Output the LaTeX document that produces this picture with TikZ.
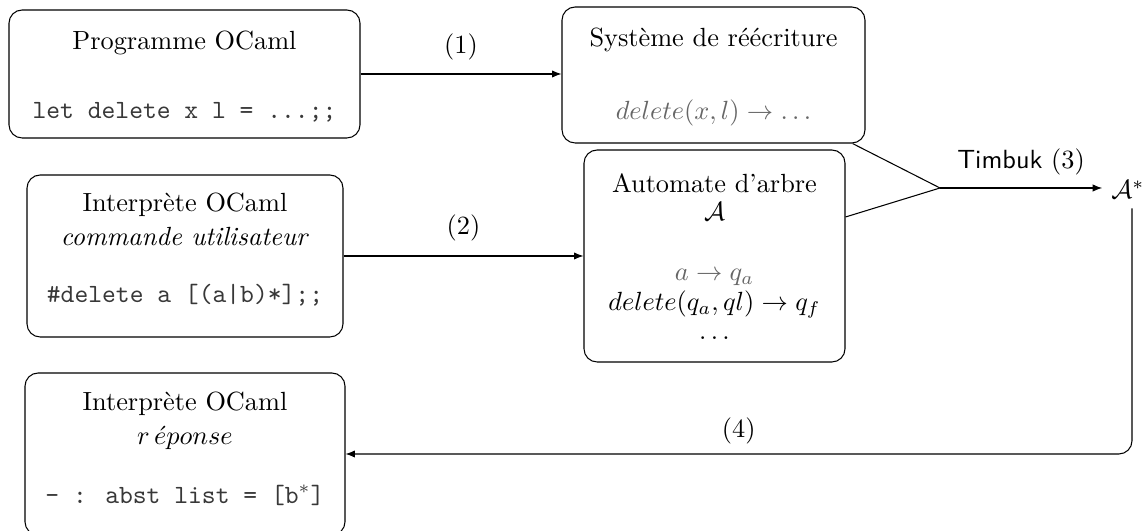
\documentclass[tikz,border=0pt]{standalone}
\usepackage{fontspec}
\usetikzlibrary{fit,calc,arrows.meta}
\begin{document}
\begin{tikzpicture}[x=0.3802pt,y=-0.3802pt,
  box/.style={draw, rounded corners=5pt, inner sep=0pt},
  txt/.style={inner sep=0pt},
  grey/.style={text=black!60},
  code/.style={inner sep=0pt, text=black!78, font=\ttfamily},
  arr/.style={-{Latex[length=3.6pt,width=2.8pt]}},
  lab/.style={above, midway},
]
\useasboundingbox (0,0) rectangle (1143,531);

% boxes
\node[box, fit={(9,10) (360,138)}] (b1) {};
\node[box, fit={(562,7) (865,143)}] (b2) {};
\node[box, fit={(27,175) (343,337)}] (b3) {};
\node[box, fit={(584,150) (845,362)}] (b4) {};
\node[box, fit={(25,373) (345,535)}] (b5) {};

% box texts
\node[txt] (b1t) at (184.5,43) {Programme OCaml};
\node[code] (b1c) at (184.5,112) {let delete x l = ...;;};

\node[txt] (b2t) at (713.5,40) {Système de réécriture};
\node[txt, grey] (b2c) at (713.5,113) {$delete(x,l) \to \dots$};

\node[txt] (b3t) at (185,205) {Interprète OCaml};
\node[txt] (b3i) at (185,237) {\textit{commande utilisateur}};
\node[code] (b3c) at (185,295) {\#delete a [(a|b)*];;};

\node[txt] (b4t) at (714.5,183) {Automate d'arbre};
\node[txt] (b4a) at (714.5,212) {$\mathcal{A}$};
\node[txt, grey] (b4r1) at (714.5,277) {$a \to q_a$};
\node[txt] (b4r2) at (714.5,304) {$delete(q_a,ql) \to q_f$};
\node[txt] (b4r3) at (714.5,338) {$\dots$};

\node[txt] (b5t) at (185,404) {Interprète OCaml};
\node[txt] (b5i) at (185,438) {$r\,\acute{e}ponse$};
\node[code] (b5c) at (185,495) {- : abst list = [b$^*$]};

% result automaton
\node[anchor=base] (astar) at (1128,199) {$\mathcal{A}^*$};
\coordinate (J) at (940,188);

% connectors
\draw[arr] (b1.east) -- node[lab, yshift=1.6pt] {(1)} (b1.east -| b2.west);
\draw[arr] (b3.east) -- node[lab, yshift=2.2pt] {(2)} (b3.east -| b4.west);
\draw ($(b2.south east)+(-13,0)$) -- (J);
\draw ($(b4.east)+(0,-39)$) -- (J);
\draw[arr] (J) -- node[lab, yshift=1.2pt] {\textsf{Timbuk} (3)} (J -| astar.west);
\draw[arr, rounded corners=5pt] ($(astar.south)+(4,0)$) |- node[above, pos=0.75, yshift=0.4pt] {(4)} (b5.east);
\end{tikzpicture}
\end{document}
